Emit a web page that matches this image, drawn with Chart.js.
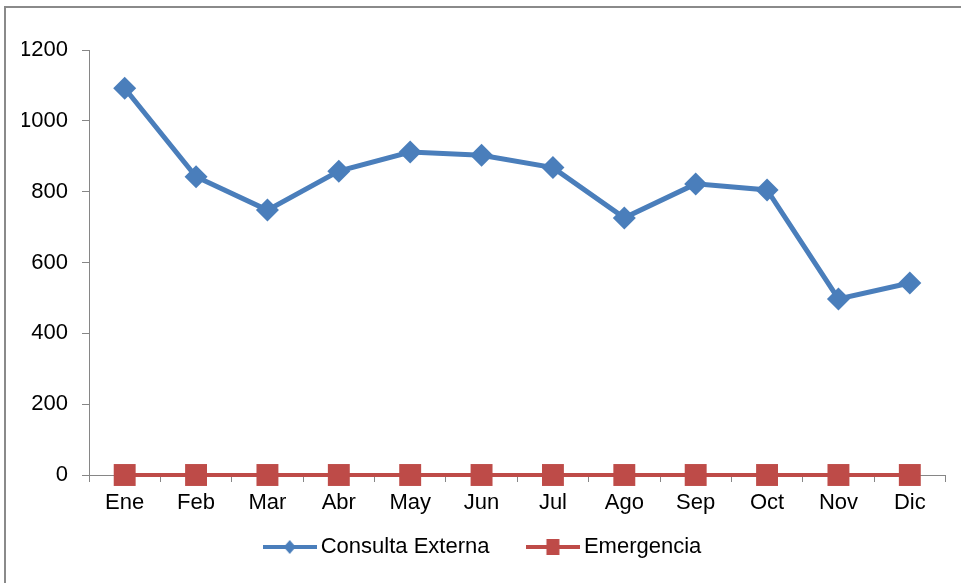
<!DOCTYPE html>
<html>
<head>
<meta charset="utf-8">
<script src="https://cdn.jsdelivr.net/npm/chart.js@4/dist/chart.umd.min.js"></script>
<style>
  html, body { margin: 0; padding: 0; background: #fff; }
  #wrap { position: relative; width: 961px; height: 583px; }
  #frame { position: absolute; left: 4px; top: 6px; width: 980px; height: 600px;
           border-left: 2px solid #8a8a8a; border-top: 2px solid #8a8a8a; pointer-events: none; }
</style>
</head>
<body>
<div id="wrap">
  <canvas id="chart" width="961" height="583"></canvas>
  <div id="frame"></div>
</div>
<script>
// data
const months = ['Ene', 'Feb', 'Mar', 'Abr', 'May', 'Jun', 'Jul', 'Ago', 'Sep', 'Oct', 'Nov', 'Dic'];
const consultaExterna = [1092, 842, 748, 858, 912, 903, 868, 726, 822, 805, 497, 542];
const emergencia = [0, 0, 0, 0, 0, 0, 0, 0, 0, 0, 0, 0];
const yTicks = [0, 200, 400, 600, 800, 1000, 1200];

const BLUE = '#4A7EBB';
const RED = '#BE4B48';
const AXIS = '#868686';

// legend swatches: a line with the marker in its middle, like the spreadsheet legend
function legendSwatch(color, shape) {
    const c = document.createElement('canvas');
    c.width = 54;
    c.height = 18;
    const g = c.getContext('2d');
    g.fillStyle = color;
    g.fillRect(0, 7, 54, 4);
    g.beginPath();
    if (shape === 'diamond') {
        g.moveTo(27, 2); g.lineTo(33, 9); g.lineTo(27, 16); g.lineTo(21, 9);
    } else {
        g.rect(20.5, 1, 13, 16);
    }
    g.closePath();
    g.fill();
    return c;
}
const swatches = [legendSwatch(BLUE, 'diamond'), legendSwatch(RED, 'square')];
// extra room after the first legend entry (gap between entries)
const legendGap = ['\u00A0\u00A0\u00A0\u00A0', ''];

Chart.defaults.font.family = '"Liberation Sans", Arial, sans-serif';
Chart.defaults.font.size = 22;
Chart.defaults.color = '#000';

const ctx = document.getElementById('chart').getContext('2d');

const config = {
    type: 'line',
    data: {
        labels: months,
        datasets: [
            {
                label: 'Consulta Externa',
                data: consultaExterna,
                borderColor: BLUE,
                backgroundColor: BLUE,
                borderWidth: 5,
                pointStyle: 'rectRot',
                pointRadius: 11.5,
                pointBorderWidth: 0,
                pointBackgroundColor: BLUE,
                tension: 0,
                clip: false
            },
            {
                label: 'Emergencia',
                data: emergencia,
                borderColor: RED,
                backgroundColor: RED,
                borderWidth: 4,
                pointStyle: 'rect',
                pointRadius: 15.5,
                pointBorderWidth: 0,
                pointBackgroundColor: RED,
                tension: 0,
                clip: false
            }
        ]
    },
    options: {
        responsive: false,
        animation: false,
        layout: {
            padding: { top: 50, right: 12, bottom: 15, left: 22 }
        },
        plugins: {
            legend: {
                display: true,
                position: 'bottom',
                labels: {
                    usePointStyle: true,
                    pointStyleWidth: 40,
                    padding: 19,
                    font: { size: 22 },
                    generateLabels: function(chart) {
                        return chart.data.datasets.map((ds, i) => ({
                            text: ds.label + legendGap[i],
                            pointStyle: swatches[i],
                            fillStyle: ds.borderColor,
                            strokeStyle: ds.borderColor,
                            lineWidth: 0,
                            hidden: false,
                            datasetIndex: i
                        }));
                    }
                }
            },
            tooltip: { enabled: false }
        },
        scales: {
            x: {
                offset: true,
                grid: {
                    offset: true,
                    drawOnChartArea: false,
                    drawTicks: true,
                    tickLength: 7,
                    color: AXIS
                },
                border: { display: true, color: AXIS, width: 1 },
                ticks: { padding: 8, maxRotation: 0, autoSkip: false },
                afterFit: function(scale) { scale.height = 42; }
            },
            y: {
                min: 0,
                max: 1200,
                afterBuildTicks: function(scale) {
                    scale.ticks = yTicks.map(v => ({ value: v }));
                },
                grid: {
                    drawOnChartArea: false,
                    drawTicks: true,
                    tickLength: 7,
                    color: AXIS
                },
                border: { display: true, color: AXIS, width: 1 },
                ticks: {
                    padding: 14,
                    callback: function(value) { return String(value); }
                },
                afterFit: function(scale) { scale.width = 67; }
            }
        }
    }
};

const myChart = new Chart(ctx, config);
</script>
</body>
</html>
